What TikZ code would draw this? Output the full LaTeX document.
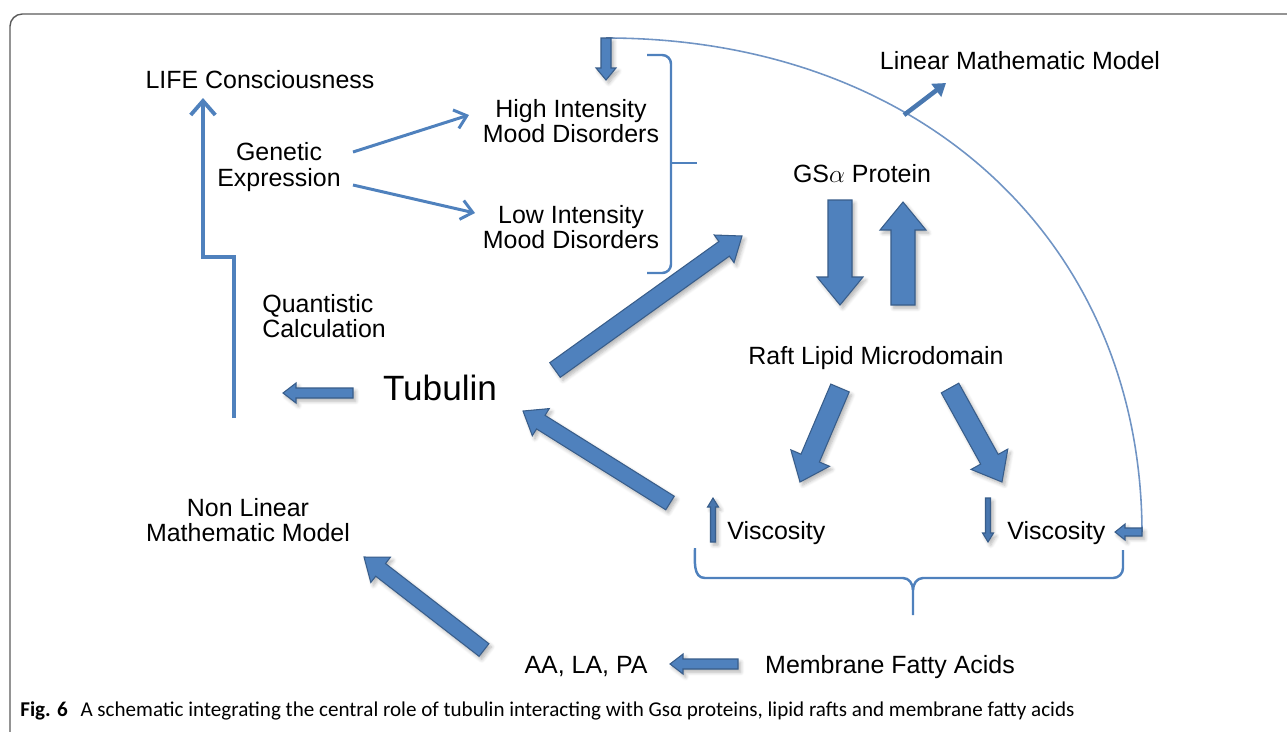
\documentclass[tikz,border=0pt]{standalone}
\usepackage{fontspec}
\setmainfont{Liberation Sans}
\newfontfamily\capfont{Carlito}
\usetikzlibrary{calc,arrows.meta,shadows.blur}
\definecolor{ofill}{HTML}{4F81BD}
\definecolor{oline}{HTML}{385D8A}
\definecolor{arcc}{HTML}{7094C4}
\definecolor{framec}{HTML}{5A5A5A}
\tikzset{
  barrow/.style={fill=ofill, draw=oline, line width=0.6pt, line join=miter,
    blur shadow={shadow blur steps=6, shadow xshift=1.5pt, shadow yshift=-1.8pt, shadow opacity=30}},
  lbl/.style={font=\fontsize{14.2}{14.6}\selectfont, inner sep=0pt, align=center, text=black},
  thinarrow/.style={draw=ofill, line width=1.7pt, -{Straight Barb[length=6.5pt,width=11pt]}},
  bracel/.style={draw=ofill, line width=1.4pt, line join=round},
}
% block arrow: [opts]{tail}{tip}{shaft half}{head half}{head length}  (pixel units)
\newcommand\blockar[6][]{%
  \coordinate (bab) at ($(#3)!#6*0.02cm!(#2)$);
  \draw[barrow,#1] ($(#2)!#4*0.02cm!90:(#3)$) -- ($(bab)!#4*0.02cm!-90:(#2)$)
    -- ($(bab)!#5*0.02cm!-90:(#2)$) -- (#3) -- ($(bab)!#5*0.02cm!90:(#2)$)
    -- ($(bab)!#4*0.02cm!90:(#2)$) -- ($(#2)!#4*0.02cm!-90:(#3)$) -- cycle;}
\begin{document}
\begin{tikzpicture}[x=0.02cm,y=-0.02cm]
\useasboundingbox (0,0) rectangle (1287,731);
% frame
\draw[framec, line width=0.8pt, rounded corners=7pt] (10,740) -- (10,14) -- (1300,14);

% text nodes
\node[lbl, anchor=base] (life) at (260,88) {LIFE Consciousness};
\node[lbl] (genetic) at (279,167) {Genetic\\Expression};
\node[lbl] (high) at (571,121) {High Intensity\\Mood Disorders};
\node[lbl] (low) at (571,227) {Low Intensity\\Mood Disorders};
\node[lbl, anchor=west, align=left] (quant) at (262,316) {Quantistic\\Calculation};
\node[lbl, anchor=base, font=\fontsize{20}{24}\selectfont] (tub) at (440,400) {Tubulin};
\node[lbl] (nonlin) at (248,520) {Non Linear\\Mathematic Model};
\node[lbl, anchor=base] (linear) at (1020,69) {Linear Mathematic Model};
\node[lbl, anchor=base] (gsa) at (862,182) {GS$\alpha$ Protein};
\node[lbl, anchor=base] (raft) at (876,364) {Raft Lipid Microdomain};
\node[lbl, anchor=base west] (v1) at (727,539) {Viscosity};
\node[lbl, anchor=base west] (v2) at (1007,539) {Viscosity};
\node[lbl, anchor=base] (aa) at (586,673) {AA, LA, PA};
\node[lbl, anchor=base] (memb) at (890,673) {Membrane Fatty Acids};
\node[anchor=base west, inner sep=0pt, font=\capfont\fontsize{12}{14}\selectfont] (cap) at (20,716)
  {\textbf{Fig. 6}\hspace{0.6em}A schematic integrating the central role of tubulin interacting with Gs\char"03B1{} proteins, lipid rafts and membrane fatty acids};

% connector end points
\coordinate (lifebot) at (234,418);
\coordinate (lifetip) at (203,98);
\coordinate (genA) at (353,152); \coordinate (highA) at (469,115);
\coordinate (genB) at (353,185); \coordinate (lowA) at (475,213);
\coordinate (topT) at (606,38); \coordinate (topH) at (606,80);
\coordinate (lmT) at (904,115); \coordinate (lmH) at (946,83);
\coordinate (tgT) at (555,370); \coordinate (tgH) at (742,236);
\coordinate (gdT) at (840,200); \coordinate (gdH) at (840,305);
\coordinate (guT) at (903,305); \coordinate (guH) at (903,202);
\coordinate (r1T) at (840,388); \coordinate (r1H) at (800,482);
\coordinate (r2T) at (950,388); \coordinate (r2H) at (1002,482);
\coordinate (vtT) at (670,503); \coordinate (vtH) at (523,411);
\coordinate (anT) at (484,650); \coordinate (anH) at (364,557);
\coordinate (tlT) at (353,393); \coordinate (tlH) at (283,393);
\coordinate (maT) at (738,664); \coordinate (maH) at (670,664);
\coordinate (slT) at (1142,532); \coordinate (slH) at (1115,532);
\coordinate (vuT) at (713,542); \coordinate (vuH) at (713,498);
\coordinate (vdT) at (988,498); \coordinate (vdH) at (988,542);

% thin line arrows
\draw[thinarrow, line width=2.2pt, -{Straight Barb[length=8pt,width=14pt]}] (lifebot) |- (203,257) -- (lifetip);
\draw[thinarrow] (genA) -- (highA);
\draw[thinarrow] (genB) -- (lowA);

% arc
\draw[arcc, line width=0.9pt] (topT) .. controls (921.7,38) and (1141,241.8) .. (slT);
\draw[draw=ofill!75!oline, line width=2.6pt, -{Triangle[length=7pt,width=9pt]}] (lmT) -- (lmH);

% brackets
\draw[bracel, rounded corners=5pt] (647,55) -- (671,55) -- (671,273) -- (647,273);
\draw[bracel] (670,163) -- (697,163);
\draw[bracel] (695,548) to[out=-90,in=180] (705,578) -- (903,578) to[out=0,in=90] (913,590) -- (913,615);
\draw[bracel] (913,590) to[out=90,in=180] (923,578) -- (1113,578) to[out=0,in=-90] (1123,568) -- (1123,550);

% block arrows
\blockar{topT}{topH}{5}{10}{12}
\blockar{tgT}{tgH}{9}{17}{22}
\blockar{gdT}{gdH}{12}{23}{28}
\blockar{guT}{guH}{12}{23}{28}
\blockar{r1T}{r1H}{10}{21}{26}
\blockar{r2T}{r2H}{10}{21}{26}
\blockar{vtT}{vtH}{8}{16}{21}
\blockar{anT}{anH}{8}{16}{21}
\blockar{tlT}{tlH}{5}{10}{13}
\blockar{maT}{maH}{5}{10}{13}
\blockar{slT}{slH}{4}{8}{10}
\blockar[fill=ofill!70!oline]{vuT}{vuH}{2.5}{5.5}{9}
\blockar[fill=ofill!70!oline]{vdT}{vdH}{2.5}{5.5}{9}
\end{tikzpicture}
\end{document}
